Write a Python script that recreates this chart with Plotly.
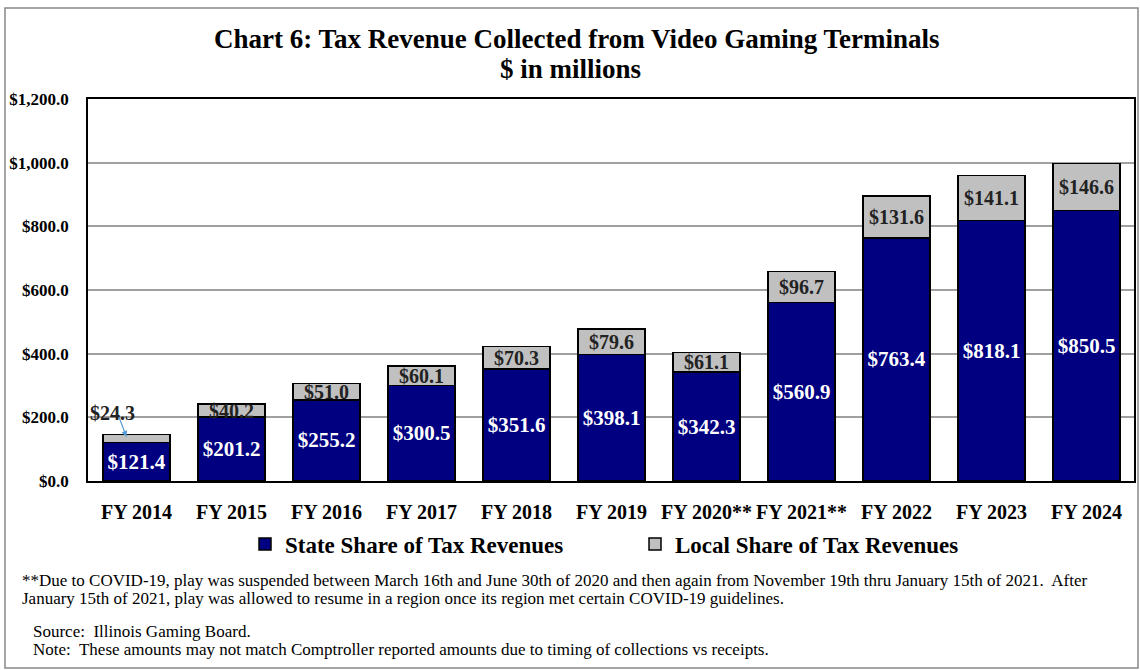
import plotly.graph_objects as go

categories = ["FY 2014", "FY 2015", "FY 2016", "FY 2017", "FY 2018", "FY 2019",
              "FY 2020**", "FY 2021**", "FY 2022", "FY 2023", "FY 2024"]
state_share = [121.4, 201.2, 255.2, 300.5, 351.6, 398.1, 342.3, 560.9, 763.4, 818.1, 850.5]
local_share = [24.3, 40.2, 51.0, 60.1, 70.3, 79.6, 61.1, 96.7, 131.6, 141.1, 146.6]
y_ticks = [0, 200, 400, 600, 800, 1000, 1200]

FONT = "Liberation Serif"
NAVY = "#000080"
GRAY = "#c0c0c0"

fig = go.Figure()
fig.add_trace(go.Bar(
    name="State Share of Tax Revenues", x=categories, y=state_share,
    marker=dict(color=NAVY, line=dict(color="black", width=1.5)),
    text=[f"${v:,.1f}" for v in state_share], textposition="inside",
    insidetextanchor="middle", constraintext="none",
    textfont=dict(family=FONT, size=21, color="white", weight="bold"),
    hoverinfo="skip"))
fig.add_trace(go.Bar(
    name="Local Share of Tax Revenues", x=categories, y=local_share,
    marker=dict(color=GRAY, line=dict(color="black", width=1.5)),
    hoverinfo="skip"))

def px_to_py(py):
    return (481 - py) / 382

def px_to_px(px):
    return (px - 88) / 1046

label_font = dict(family=FONT, size=20, color="#222", weight="bold")
annotations = []
for i, (c, s, l) in enumerate(zip(categories, state_share, local_share)):
    if i == 0:
        # arrow pointing into the thin local segment
        annotations.append(dict(
            x=c, y=s + l * 0.7, xref="x", yref="y", xshift=-10,
            text="", showarrow=True, ax=-9, ay=-24,
            arrowhead=2, arrowsize=1, arrowwidth=1.2, arrowcolor="#5b9bd5", standoff=0))
        annotations.append(dict(
            x=c, y=s + l, xref="x", yref="y", xshift=-24, yshift=22,
            text=f"${l:,.1f}", showarrow=False, font=label_font))
    else:
        annotations.append(dict(
            x=c, y=s + l / 2, xref="x", yref="y", text=f"${l:,.1f}",
            showarrow=False, font=label_font))

title_font = dict(family=FONT, size=27, color="black", weight="bold")
annotations += [
    dict(xref="paper", yref="paper", x=px_to_px(577), y=px_to_py(39), xanchor="center",
         yanchor="middle", showarrow=False, text="Chart 6: Tax Revenue Collected from Video Gaming Terminals",
         font=title_font),
    dict(xref="paper", yref="paper", x=px_to_px(570), y=px_to_py(69), xanchor="center",
         yanchor="middle", showarrow=False, text="$ in millions", font=title_font),
]

foot = dict(family=FONT, size=17, color="black")
annotations += [
    dict(xref="paper", yref="paper", x=px_to_px(20), y=px_to_py(580),
         xanchor="left", yanchor="middle", showarrow=False, align="left",
         text="**Due to COVID-19, play was suspended between March 16th and June 30th of 2020 and then again from November 19th thru January 15th of 2021.  After",
         font=foot),
    dict(xref="paper", yref="paper", x=px_to_px(20), y=px_to_py(598),
         xanchor="left", yanchor="middle", showarrow=False, align="left",
         text="January 15th of 2021, play was allowed to resume in a region once its region met certain COVID-19 guidelines.",
         font=foot),
    dict(xref="paper", yref="paper", x=px_to_px(31), y=px_to_py(631),
         xanchor="left", yanchor="middle", showarrow=False, align="left",
         text="Source:  Illinois Gaming Board.", font=foot),
    dict(xref="paper", yref="paper", x=px_to_px(31), y=px_to_py(649),
         xanchor="left", yanchor="middle", showarrow=False, align="left",
         text="Note:  These amounts may not match Comptroller reported amounts due to timing of collections vs receipts.",
         font=foot),
]

fig.update_layout(
    barmode="stack", bargap=0.29,
    width=1140, height=670,
    margin=dict(l=88, r=6, t=99, b=189),
    paper_bgcolor="white", plot_bgcolor="white",
    font=dict(family=FONT, color="black"),
    showlegend=True,
    legend=dict(orientation="h", x=px_to_px(245), xanchor="left", y=px_to_py(544), yanchor="middle",
                font=dict(family=FONT, size=23, color="black", weight="bold"),
                entrywidth=345, entrywidthmode="pixels", traceorder="normal",
                itemclick=False, itemdoubleclick=False, itemwidth=30),
    annotations=annotations,
    shapes=[dict(type="rect", xref="paper", yref="paper",
                 x0=px_to_px(5), x1=px_to_px(1138),
                 y0=px_to_py(668), y1=px_to_py(8),
                 line=dict(color="#888", width=1.5), layer="below")],
)
fig.update_xaxes(showline=True, linecolor="black", linewidth=1.5, mirror=True,
                 ticks="", tickangle=0, automargin=False,
                 tickfont=dict(family=FONT, size=20, color="black", weight="bold"),
                 ticklabelstandoff=12)
fig.update_yaxes(range=[0, 1200], tickvals=y_ticks, tickformat="$,.1f",
                 showline=True, linecolor="black", linewidth=1.5, mirror=True,
                 showgrid=True, gridcolor="#a0a0a0", gridwidth=1.5, zeroline=False,
                 automargin=False,
                 tickfont=dict(family=FONT, size=17, color="black", weight="bold"),
                 ticklabelstandoff=14)

fig.write_html("out.html")
